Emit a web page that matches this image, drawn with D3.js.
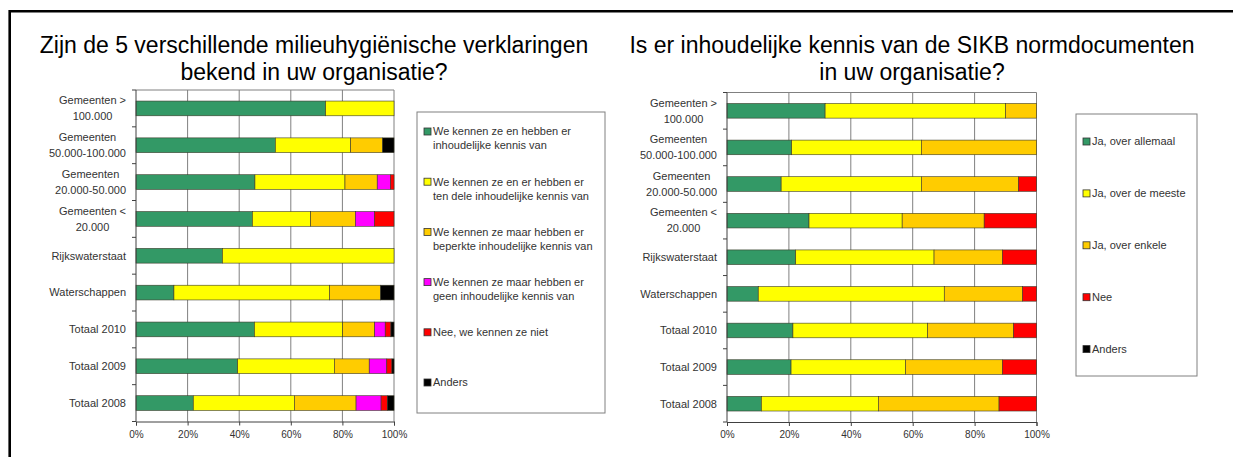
<!DOCTYPE html>
<html>
<head>
<meta charset="utf-8">
<script src="https://cdn.jsdelivr.net/npm/d3@7"></script>
<style>
  body { margin: 0; background: #fff; }
  svg { display: block; font-family: "Liberation Sans", Arial, sans-serif; }
</style>
</head>
<body>
<svg id="chart" width="1233" height="457"></svg>
<script>
// category labels (shared by both charts), one array of lines per bar
var categoryLines = [
  ["Gemeenten >", "100.000"],
  ["Gemeenten", "50.000-100.000"],
  ["Gemeenten", "20.000-50.000"],
  ["Gemeenten <", "20.000"],
  ["Rijkswaterstaat"],
  ["Waterschappen"],
  ["Totaal 2010"],
  ["Totaal 2009"],
  ["Totaal 2008"]
];

var tickValues = [0, 20, 40, 60, 80, 100];

// left chart: milieuhygienische verklaringen
var leftTitle = ["Zijn de 5 verschillende milieuhygiënische verklaringen", "bekend in uw organisatie?"];
var leftSeries = [
  ["We kennen ze en hebben er", "inhoudelijke kennis van"],
  ["We kennen ze en er hebben er", "ten dele inhoudelijke kennis van"],
  ["We kennen ze maar hebben er", "beperkte inhoudelijke kennis van"],
  ["We kennen ze maar hebben er", "geen inhoudelijke kennis van"],
  ["Nee, we kennen ze niet"],
  ["Anders"]
];
var leftColors = ["#339966", "#ffff00", "#ffcc00", "#ff00ff", "#ff0000", "#000000"];
var leftValues = [
  [73.5, 26.5, 0, 0, 0, 0],
  [54.0, 29.2, 12.4, 0, 0, 4.4],
  [46.1, 34.9, 12.5, 5.2, 1.3, 0],
  [45.1, 22.6, 17.3, 7.5, 7.5, 0],
  [33.5, 66.5, 0, 0, 0, 0],
  [14.7, 60.3, 19.8, 0, 0, 5.2],
  [45.9, 34.2, 12.4, 4.1, 2.2, 1.2],
  [39.4, 37.5, 13.5, 6.8, 2.0, 0.8],
  [22.2, 39.2, 23.9, 9.7, 2.4, 2.6]
];

// right chart: SIKB normdocumenten
var rightTitle = ["Is er inhoudelijke kennis van de SIKB normdocumenten", "in uw organisatie?"];
var rightSeries = [
  ["Ja, over allemaal"],
  ["Ja, over de meeste"],
  ["Ja, over enkele"],
  ["Nee"],
  ["Anders"]
];
var rightColors = ["#339966", "#ffff00", "#ffcc00", "#ff0000", "#000000"];
var rightValues = [
  [31.7, 58.3, 10.0, 0, 0],
  [20.9, 41.9, 37.2, 0, 0],
  [17.5, 45.3, 31.4, 5.8, 0],
  [26.5, 30.1, 26.5, 16.9, 0],
  [22.2, 44.7, 22.1, 11.0, 0],
  [10.1, 60.1, 25.3, 4.5, 0],
  [21.3, 43.5, 27.8, 7.4, 0],
  [20.7, 37.0, 31.3, 11.0, 0],
  [11.1, 37.8, 39.0, 12.1, 0]
];

var svg = d3.select("#chart");

// outer frame
svg.append("path")
  .attr("d", "M9.7,460 L9.7,11.3 L1240,11.3")
  .attr("fill", "none")
  .attr("stroke", "#000")
  .attr("stroke-width", 2.6);

function drawChart(opt) {
  var g = svg.append("g");

  // title
  g.selectAll(".title")
    .data(opt.title)
    .enter()
    .append("text")
    .attr("x", opt.titleX)
    .attr("y", (d, i) => opt.titleY + i * 27.7)
    .attr("text-anchor", "middle")
    .attr("font-size", 23)
    .attr("fill", "#000")
    .text(d => d);

  var x = d3.scaleLinear().domain([0, 100]).range([opt.x0, opt.x1]);
  var y = d3.scaleBand()
    .domain(d3.range(opt.values.length))
    .range([opt.y0, opt.y1])
    .paddingInner(0.6)
    .paddingOuter(0.3);

  // gridlines
  g.selectAll(".grid")
    .data(tickValues.slice(1))
    .enter()
    .append("line")
    .attr("x1", d => x(d)).attr("x2", d => x(d))
    .attr("y1", opt.y0).attr("y2", opt.y1)
    .attr("stroke", "#808080")
    .attr("stroke-width", 1);
  g.append("line")
    .attr("x1", opt.x0).attr("x2", opt.x1)
    .attr("y1", opt.y0).attr("y2", opt.y0)
    .attr("stroke", "#808080");

  // stacked bars
  var stack = opt.values.map(row => {
    var acc = 0;
    return row.map((v, k) => { var s = acc; acc += v; return {s: s, e: acc, k: k}; });
  });

  var rows = g.selectAll(".row")
    .data(stack)
    .enter()
    .append("g")
    .attr("transform", (d, i) => `translate(0,${y(i)})`);

  rows.selectAll("rect")
    .data(d => d.filter(p => p.e > p.s))
    .enter()
    .append("rect")
    .attr("x", d => x(d.s))
    .attr("width", d => x(d.e) - x(d.s))
    .attr("y", 0)
    .attr("height", y.bandwidth())
    .attr("fill", d => opt.colors[d.k])
    .attr("stroke", "#3a3a2a")
    .attr("stroke-width", 0.6);

  // x axis
  var xAxis = d3.axisBottom(x)
    .tickValues(tickValues)
    .tickSize(4)
    .tickFormat(d => d + "%");
  var xg = g.append("g")
    .attr("transform", `translate(0,${opt.y1})`)
    .call(xAxis);
  xg.select(".domain").attr("stroke", "#404040");
  xg.selectAll(".tick line").attr("stroke", "#404040");
  xg.selectAll(".tick text")
    .attr("font-size", 10)
    .attr("fill", "#333")
    .attr("font-family", "Liberation Sans, Arial, sans-serif")
    .attr("dy", "0.9em");

  // y axis line with outward ticks at band boundaries
  var step = (opt.y1 - opt.y0) / opt.values.length;
  g.append("line")
    .attr("x1", opt.x0).attr("x2", opt.x0)
    .attr("y1", opt.y0).attr("y2", opt.y1)
    .attr("stroke", "#404040");
  g.selectAll(".ytick")
    .data(d3.range(opt.values.length + 1))
    .enter()
    .append("line")
    .attr("x1", opt.x0 - 4).attr("x2", opt.x0)
    .attr("y1", d => opt.y0 + d * step).attr("y2", d => opt.y0 + d * step)
    .attr("stroke", "#404040");

  // category labels
  var labels = g.selectAll(".cat")
    .data(categoryLines)
    .enter()
    .append("g")
    .attr("transform", (d, i) => `translate(0,${y(i) + y.bandwidth() / 2})`);

  labels.each(function(lines) {
    var lg = d3.select(this);
    var texts = lines.map((t, j) => lg.append("text")
      .attr("font-size", 11)
      .attr("fill", "#333")
      .attr("text-anchor", "middle")
      .attr("y", (j - (lines.length - 1) / 2) * 16)
      .attr("dy", "0.35em")
      .text(t));
    var w = d3.max(texts, t => t.node().getComputedTextLength());
    texts.forEach(t => t.attr("x", opt.x0 - 10 - w / 2));
  });

  // legend
  var lb = opt.legend;
  g.append("rect")
    .attr("x", lb.x).attr("y", lb.y)
    .attr("width", lb.w).attr("height", lb.h)
    .attr("fill", "#fff")
    .attr("stroke", "#808080")
    .attr("stroke-width", 1);

  var items = g.selectAll(".leg")
    .data(opt.series)
    .enter()
    .append("g")
    .attr("transform", (d, i) => `translate(${lb.x + 7},${lb.firstY + i * lb.step})`);

  items.append("rect")
    .attr("x", 0).attr("y", -3.5)
    .attr("width", 7).attr("height", 7)
    .attr("fill", (d, i) => opt.colors[i])
    .attr("stroke", "#333")
    .attr("stroke-width", 0.8);

  items.selectAll("text")
    .data(d => d)
    .enter()
    .append("text")
    .attr("x", 9)
    .attr("y", (d, j) => j * 14)
    .attr("dy", "0.35em")
    .attr("font-size", 11)
    .attr("fill", "#333")
    .text(d => d);
}

drawChart({
  title: leftTitle, titleX: 314, titleY: 52.5,
  values: leftValues, series: leftSeries, colors: leftColors,
  x0: 136, x1: 394, y0: 90, y1: 421.5,
  legend: {x: 417, y: 112, w: 188, h: 301, firstY: 131.5, step: 50.2}
});

drawChart({
  title: rightTitle, titleX: 912, titleY: 52.5,
  values: rightValues, series: rightSeries, colors: rightColors,
  x0: 727, x1: 1036.5, y0: 92.5, y1: 422,
  legend: {x: 1076, y: 114, w: 121, h: 262, firstY: 141.5, step: 51.9}
});
</script>
</body>
</html>
